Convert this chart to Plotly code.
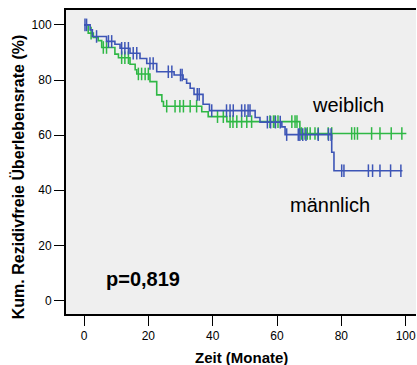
import plotly.graph_objects as go

# Kaplan-Meier step data (months, % recurrence-free)
m_step_t = [0, 1.9, 2.6, 7.0, 9.6, 11.2, 14.3, 17.4, 19.5, 22.6, 28.0, 30.8, 31.9, 33.0, 34.2, 37.0, 39.0, 53.2, 54.7, 61.5, 62.5, 77.0, 77.7]
m_step_s = [100, 98.2, 95.8, 94.0, 93.0, 91.5, 89.7, 87.8, 86.0, 83.0, 81.8, 80.3, 78.8, 77.0, 74.8, 71.2, 68.9, 66.4, 64.7, 63.0, 60.2, 53.8, 47.1]
m_end = 99.0
m_cens = [0.3, 0.8, 3.9, 7.6, 8.6, 11.7, 12.7, 13.8, 15.3, 16.4, 20.5, 21.5, 26.2, 27.3, 30.0, 30.5, 35.2, 35.8,
          39.7, 44.3, 45.4, 46.4, 49.0, 50.0, 51.0, 51.6, 57.0, 58.0, 59.5, 61.0, 63.0, 66.6, 67.1, 68.0, 69.0,
          72.8, 76.0, 76.8, 80.1, 80.8, 88.4, 89.7, 92.0, 95.3, 98.5]

w_step_t = [0, 1.3, 2.9, 4.4, 5.5, 9.6, 10.7, 14.3, 15.9, 16.4, 20.5, 22.6, 24.2, 24.7, 36.6, 38.6, 44.4, 67.1]
w_step_s = [100, 97.0, 95.4, 94.3, 91.8, 89.4, 88.1, 85.7, 83.7, 82.2, 79.4, 74.6, 72.2, 70.5, 68.5, 66.7, 64.9, 60.6]
w_end = 100.2
w_cens = [2.2, 6.0, 7.0, 11.7, 12.7, 13.8, 16.9, 17.9, 19.0, 20.0, 25.7, 28.3, 29.8, 30.9, 33.0, 35.0, 41.5, 43.3,
          45.4, 46.3, 47.5, 49.0, 50.6, 52.1, 57.8, 58.9, 59.4, 60.3, 64.6, 65.6, 66.2, 67.6, 68.7, 69.4, 70.3,
          71.8, 72.8, 75.9, 77.0, 83.2, 84.1, 85.0, 89.4, 92.0, 95.5, 98.8]

x_ticks = [0, 20, 40, 60, 80, 100]
y_ticks = [0, 20, 40, 60, 80, 100]

BLUE = "#3d55b6"
GREEN = "#2fb845"


def surv_at(ts, ss, t):
    v = ss[0]
    for a, b in zip(ts, ss):
        if a <= t:
            v = b
    return v


fig = go.Figure()
for ts, ss, end, cens, col in [(w_step_t, w_step_s, w_end, w_cens, GREEN),
                                (m_step_t, m_step_s, m_end, m_cens, BLUE)]:
    fig.add_trace(go.Scatter(x=ts + [end], y=ss + [ss[-1]], mode="lines", line_shape="hv",
                             line=dict(color=col, width=1.6), hoverinfo="skip", showlegend=False))
    fig.add_trace(go.Scatter(x=cens, y=[surv_at(ts, ss, c) for c in cens], mode="markers",
                             marker=dict(symbol="line-ns", size=9, line=dict(color=col, width=1.5)),
                             showlegend=False))

font = "Liberation Sans, Arial, sans-serif"
fig.update_layout(
    width=417, height=365,
    margin=dict(l=66, r=1, t=10, b=51),
    paper_bgcolor="white", plot_bgcolor="#efefef",
    font=dict(family=font, size=12, color="black"),
    xaxis=dict(range=[-5.6, 103.2], tickvals=x_ticks, ticks="outside", ticklen=10, tickwidth=1,
               tickcolor="black", showline=True, linecolor="black", linewidth=2, mirror=True,
               showgrid=False, zeroline=False, tickfont=dict(size=12)),
    yaxis=dict(range=[-4.9, 105.4], tickvals=y_ticks, ticks="outside", ticklen=10, tickwidth=1,
               tickcolor="black", showline=True, linecolor="black", linewidth=2, mirror=False,
               showgrid=False, zeroline=False, tickfont=dict(size=12)),
    annotations=[
        dict(text="<b>Zeit (Monate)</b>", xref="paper", yref="paper", x=0.5, y=-0.142,
             showarrow=False, font=dict(size=15), xanchor="center", yanchor="middle"),
        dict(text="<b>Kum. Rezidivfreie Überlebensrate (%)</b>", xref="paper", yref="paper",
             x=-0.137, y=0.45, textangle=-90, showarrow=False, font=dict(size=16),
             xanchor="center", yanchor="middle"),
        dict(text="weiblich", x=82, y=71, showarrow=False, font=dict(size=20),
             xanchor="center", yanchor="middle"),
        dict(text="männlich", x=76.5, y=34.7, showarrow=False, font=dict(size=20),
             xanchor="center", yanchor="middle"),
        dict(text="<b>p=0,819</b>", x=18.3, y=7.8, showarrow=False, font=dict(size=20),
             xanchor="center", yanchor="middle"),
    ],
)

fig.write_html("out.html")
